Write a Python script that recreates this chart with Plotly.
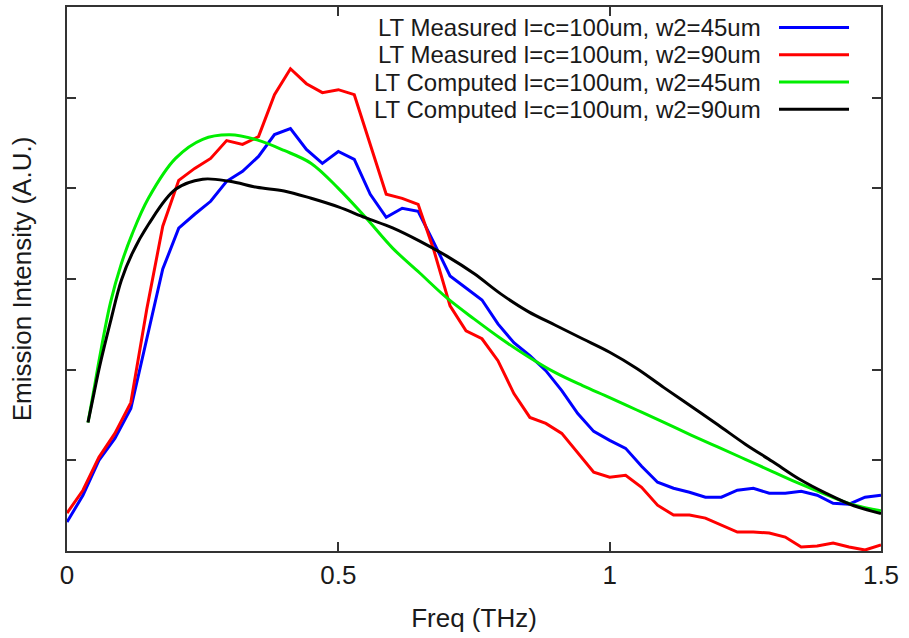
import plotly.graph_objects as go

# Measured spectra: frequency grid step 1/34 THz, 52 points
freq_meas = [i / 34 for i in range(52)]
meas_w45 = [0.319, 0.615, 1.000, 1.242, 1.571, 2.341, 3.110, 3.560, 3.714, 3.857,
            4.077, 4.187, 4.352, 4.593, 4.659, 4.429, 4.275, 4.407, 4.319, 3.934,
            3.681, 3.780, 3.747, 3.396, 3.033, 2.901, 2.769, 2.505, 2.297, 2.154,
            1.989, 1.769, 1.516, 1.319, 1.220, 1.132, 0.934, 0.758, 0.692, 0.648,
            0.593, 0.593, 0.670, 0.692, 0.637, 0.637, 0.659, 0.615, 0.527, 0.516,
            0.593, 0.615]
meas_w90 = [0.418, 0.670, 1.033, 1.297, 1.637, 2.670, 3.582, 4.088, 4.220, 4.330,
            4.527, 4.484, 4.571, 5.033, 5.319, 5.154, 5.055, 5.088, 5.033, 4.484,
            3.934, 3.890, 3.824, 3.308, 2.703, 2.429, 2.341, 2.099, 1.736, 1.473,
            1.407, 1.297, 1.077, 0.868, 0.813, 0.835, 0.703, 0.505, 0.396, 0.396,
            0.363, 0.286, 0.209, 0.209, 0.198, 0.154, 0.044, 0.055, 0.088, 0.044,
            0.011, 0.066]

# Computed spectra
freq_comp = [0.0387, 0.05, 0.06, 0.08, 0.10, 0.12, 0.15, 0.20, 0.25, 0.30, 0.35,
             0.40, 0.45, 0.50, 0.55, 0.60, 0.65, 0.70, 0.75, 0.80, 0.85, 0.90,
             0.95, 1.00, 1.05, 1.10, 1.15, 1.20, 1.25, 1.30, 1.35, 1.40, 1.45, 1.50]
comp_w45 = [1.418, 1.791, 2.132, 2.736, 3.165, 3.495, 3.890, 4.330, 4.541, 4.590,
            4.534, 4.418, 4.275, 4.000, 3.681, 3.341, 3.066, 2.791, 2.560, 2.341,
            2.143, 1.967, 1.824, 1.692, 1.555, 1.418, 1.279, 1.145, 1.011, 0.876,
            0.742, 0.619, 0.508, 0.443]
comp_w90 = [1.418, 1.747, 2.033, 2.527, 2.984, 3.280, 3.601, 3.989, 4.101, 4.077,
            4.011, 3.971, 3.890, 3.795, 3.676, 3.564, 3.418, 3.252, 3.060, 2.833,
            2.640, 2.490, 2.341, 2.192, 2.013, 1.802, 1.596, 1.389, 1.178, 0.987,
            0.791, 0.633, 0.499, 0.414]

names = ["LT Measured l=c=100um, w2=45um",
         "LT Measured l=c=100um, w2=90um",
         "LT Computed l=c=100um, w2=45um",
         "LT Computed l=c=100um, w2=90um"]
colors = ["#0000ff", "#ff0000", "#00ee00", "#000000"]

x_ticks = [0, 0.5, 1, 1.5]
x_ticktext = ["0", "0.5", "1", "1.5"]

FONT = "Liberation Sans, Arial, sans-serif"
TXT = "#1a1a1a"
FS = 26
LEG_FS = 24

series = [
    (freq_meas, meas_w45, "linear"),
    (freq_meas, meas_w90, "linear"),
    (freq_comp, comp_w45, "spline"),
    (freq_comp, comp_w90, "spline"),
]

fig = go.Figure()
for (xs, ys, shape), name, col in zip(series, names, colors):
    fig.add_trace(go.Scatter(x=xs, y=ys, mode="lines", name=name,
                             line=dict(color=col, width=3, shape=shape),
                             showlegend=False))

# Manual gnuplot-style legend (text right-aligned, sample line to the right)
PLOT_TOP, PLOT_H = 5, 546
row_px = [25.5 + 27.4 * k for k in range(4)]
for name, col, ypx in zip(names, colors, row_px):
    yy = 1 - (ypx - PLOT_TOP) / PLOT_H
    fig.add_annotation(x=0.8538, y=yy, xref="paper", yref="paper",
                       text=name, showarrow=False, xanchor="right",
                       yanchor="middle", borderpad=0,
                       font=dict(family=FONT, size=LEG_FS, color=TXT))
    fig.add_shape(type="line", xref="paper", yref="paper",
                  x0=0.8747, x1=0.9607, y0=yy, y1=yy,
                  line=dict(color=col, width=3))

fig.update_layout(
    width=909, height=638,
    margin=dict(l=67, r=28, t=5, b=87),
    paper_bgcolor="white", plot_bgcolor="white",
    font=dict(family=FONT, size=FS, color=TXT),
)
fig.update_xaxes(range=[0, 1.5], tickvals=x_ticks, ticktext=x_ticktext,
                 ticks="inside", ticklen=9, tickwidth=1.5, tickcolor="#333",
                 showline=True, linecolor="#333", linewidth=2, mirror="ticks",
                 showgrid=False, zeroline=False,
                 tickfont=dict(size=FS, family=FONT, color=TXT),
                 title=dict(text="Freq (THz)", font=dict(size=FS, family=FONT, color=TXT),
                            standoff=20))
fig.update_yaxes(range=[0, 6], dtick=1, tick0=0, showticklabels=False,
                 ticks="inside", ticklen=9, tickwidth=1.5, tickcolor="#333",
                 showline=True, linecolor="#333", linewidth=2, mirror="ticks",
                 showgrid=False, zeroline=False,
                 title=dict(text="Emission Intensity (A.U.)",
                            font=dict(size=FS, family=FONT, color=TXT), standoff=26))

fig.write_html("out.html")
